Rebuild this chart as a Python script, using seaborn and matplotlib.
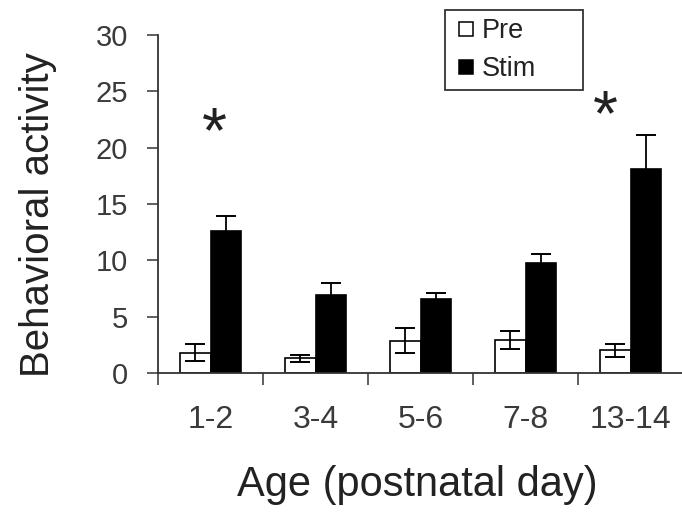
import matplotlib
matplotlib.use("Agg")
import matplotlib.pyplot as plt
import seaborn as sns
import pandas as pd
from matplotlib.lines import Line2D

ages = ["1-2", "3-4", "5-6", "7-8", "13-14"]
pre_vals = [1.8, 1.3, 2.85, 2.9, 2.0]
pre_err = [0.75, 0.33, 1.1, 0.8, 0.6]
stim_vals = [12.6, 6.9, 6.6, 9.8, 18.1]
stim_err = [1.3, 1.05, 0.53, 0.77, 3.0]
significant = ["1-2", "13-14"]
y_ticks = [0, 5, 10, 15, 20, 25, 30]

sns.set_theme(style="white")
plt.rcParams["font.family"] = ["Liberation Sans", "DejaVu Sans"]

df = pd.DataFrame({
    "Age": ages * 2,
    "Group": ["Pre"] * len(ages) + ["Stim"] * len(ages),
    "Value": pre_vals + stim_vals,
})

W, H = 682, 520
fig = plt.figure(figsize=(6.82, 5.2), dpi=100)
ax = fig.add_axes([158 / W, 1 - 373 / H, (683 - 158) / W, (373 - 35) / H])

sns.barplot(data=df, x="Age", y="Value", hue="Group", order=ages,
            hue_order=["Pre", "Stim"], palette={"Pre": "white", "Stim": "black"},
            width=0.575, errorbar=None, edgecolor="black", linewidth=1.2,
            legend=False, ax=ax)

tc = "#222222"
for cont, vals, errs in zip(ax.containers, [pre_vals, stim_vals], [pre_err, stim_err]):
    xs = [b.get_x() + b.get_width() / 2 for b in cont]
    ax.errorbar(xs, vals, yerr=errs, fmt="none", ecolor="black", elinewidth=1.3,
                capsize=7, capthick=1.4, zorder=5)

# asterisk placement (style): (x shift in category units, y shift above error cap)
star_shift = {"1-2": (0.04, 5.7), "13-14": (-0.24, 0.0)}
for i, (a, v, e) in enumerate(zip(ages, stim_vals, stim_err)):
    if a in significant:
        dx, dy = star_shift[a]
        ax.text(i + dx, v + e + dy, "*", ha="center", va="baseline",
                fontsize=46, color=tc)

ax.set_ylim(0, 30)
ax.set_xlim(-0.5, 4.5)
ax.set_yticks(y_ticks)
ax.set_yticklabels([str(t) for t in y_ticks], fontsize=21, color="#3a3a3a")
ax.set_xticks(range(len(ages)))
ax.set_xticklabels(ages, fontsize=23, color="#3a3a3a")
ax.set_xticks([i - 0.5 for i in range(len(ages) + 1)], minor=True)
ax.tick_params(axis="x", which="major", length=0, pad=23)
ax.tick_params(axis="x", which="minor", length=8.5, width=1.1, color="#333333",
               direction="out", bottom=True)
ax.tick_params(axis="y", length=8, width=1.1, color="#333333", direction="out",
               left=True, pad=13.5)

for s in ["top", "right"]:
    ax.spines[s].set_visible(False)
for s in ["left", "bottom"]:
    ax.spines[s].set_color("#333333")
    ax.spines[s].set_linewidth(1.3)

ax.set_xlabel("Age (postnatal day)", fontsize=30, color=tc)
ax.xaxis.set_label_coords((417 - 158) / 525, -(465 - 373) / 338)
ax.set_ylabel("Behavioral activity", fontsize=29, color=tc)
ax.yaxis.set_label_coords((57 - 158) / 525, (373 - 215) / 338)

handles = [Line2D([], [], linestyle="none", marker="s", markersize=10,
                  markerfacecolor="white", markeredgecolor="black",
                  markeredgewidth=1.1, label="Pre"),
           Line2D([], [], linestyle="none", marker="s", markersize=10,
                  markerfacecolor="black", markeredgecolor="black",
                  markeredgewidth=1.1, label="Stim")]
leg = fig.legend(handles=handles, loc="upper left", mode="expand",
                 bbox_to_anchor=(445 / W, 1 - 89 / H, 138 / W, 79 / H), frameon=True,
                 fancybox=False, edgecolor="black", fontsize=19.5,
                 handlelength=0.95, handletextpad=0.1,
                 borderpad=0.3, labelspacing=0.45, borderaxespad=0)
leg.get_frame().set_linewidth(1.3)
for t in leg.get_texts():
    t.set_color(tc)

fig.savefig("out.png", dpi=100)
